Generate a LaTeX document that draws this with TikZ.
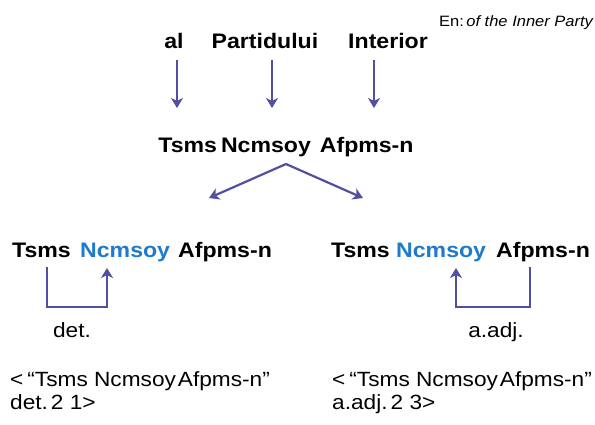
\documentclass[tikz,border=0pt]{standalone}
\usepackage{fontspec}
\setmainfont{Liberation Sans}[FakeStretch=1.1]
\usetikzlibrary{arrows.meta}
\definecolor{arr}{RGB}{82,78,160}
\definecolor{nblue}{RGB}{30,122,205}
\begin{document}
\begin{tikzpicture}[x=1pt,y=-1pt,
  word/.style={inner sep=0pt, anchor=base, font=\fontsize{21}{24}\selectfont\bfseries},
  plain/.style={inner sep=0pt, font=\fontsize{20.6}{23}\selectfont},
  conn/.style={draw=arr, line width=2.2pt, -{Stealth[length=10pt,width=12pt,inset=3pt]}},
]
\useasboundingbox (0,0) rectangle (595,424);
% English gloss
\node[inner sep=0pt, anchor=base east, font=\fontsize{15}{18}\selectfont] (en) at (594,26) {En:\,\textit{of the Inner Party}};
% top words
\node[word] (al) at (174,48) {al};
\node[word] (part) at (265,48) {Partidului};
\node[word] (inter) at (388,48) {Interior};
% middle row
\node[word] (mid) at (286,152) {Tsms\hspace{4pt}Ncmsoy\hspace{9pt}Afpms-n};
% arrows down
\coordinate (a1) at (177,60); \coordinate (b1) at (177,108);
\coordinate (a2) at (272,60); \coordinate (b2) at (272,108);
\coordinate (a3) at (374,60); \coordinate (b3) at (374,108);
\draw[conn] (a1) -- (b1);
\draw[conn] (a2) -- (b2);
\draw[conn] (a3) -- (b3);
% branch
\coordinate (apex) at (286,164);
\coordinate (lend) at (209,198);
\coordinate (rend) at (363,198);
\draw[conn] (apex) -- (lend);
\draw[conn] (apex) -- (rend);
% left row
\node[word, anchor=base west] (lt) at (12,257) {Tsms};
\node[word, anchor=base west, text=nblue] (ln) at (80,257) {Ncmsoy};
\node[word, anchor=base west] (la) at (178,257) {Afpms-n};
% right row
\node[word, anchor=base west] (rt) at (331,257) {Tsms};
\node[word, anchor=base west, text=nblue] (rn) at (396,257) {Ncmsoy};
\node[word, anchor=base west] (ra) at (496,257) {Afpms-n};
% det connector
\coordinate (d1) at (47,267); \coordinate (d2) at (107,268);
\draw[conn] (d1) -- (47,307) -- (107,307) -- (d2);
\node[plain, anchor=base] (det) at (72,337) {det.};
% a.adj connector
\coordinate (e1) at (530,267); \coordinate (e2) at (456,268);
\draw[conn] (e1) -- (530,307) -- (456,307) -- (e2);
\node[plain, anchor=base] (adj) at (496,337) {a.adj.};
% bottom texts
\node[plain, anchor=base west] (bl1) at (10,386) {<\hspace{4pt}“Tsms Ncmsoy\hspace{2pt}Afpms-n”};
\node[plain, anchor=base west] (bl2) at (10,409) {det.\hspace{3pt}2 1>};
\node[plain, anchor=base west] (br1) at (332,386) {<\hspace{4pt}“Tsms Ncmsoy\hspace{2pt}Afpms-n”};
\node[plain, anchor=base west] (br2) at (332,409) {a.adj.\hspace{3pt}2 3>};
\end{tikzpicture}
\end{document}
